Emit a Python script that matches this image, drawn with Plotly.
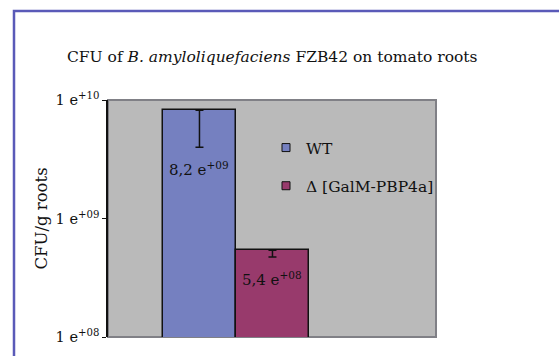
import math
import plotly.graph_objects as go

# ---- data ----
strains = ["WT", "Δ [GalM-PBP4a]"]
cfu = [8.2e9, 5.4e8]
err_minus = [4.2e9, 0.67e8]
value_labels = ["8,2 e<sup>+09</sup>", "5,4 e<sup>+08</sup>"]
bar_colors = ["#7580c0", "#983a6c"]
tick_vals = [1e8, 1e9, 1e10]
tick_text = ["1 e<sup>+08</sup>", "1 e<sup>+09</sup>", "1 e<sup>+10</sup>"]

FONT = "DejaVu Serif"

fig = go.Figure()
for i, (s, v, e, c) in enumerate(zip(strains, cfu, err_minus, bar_colors)):
    fig.add_trace(go.Bar(
        x=[s], y=[v], name=s, showlegend=False,
        marker=dict(color=c, line=dict(color="#111111", width=1.5)),
        error_y=dict(type="data", symmetric=False, array=[0], arrayminus=[e],
                     color="#111111", thickness=1.5, width=4),
    ))
    # legend entry with small square marker
    fig.add_trace(go.Scatter(
        x=[None], y=[None], mode="markers", name=s, legendgroup=s,
        marker=dict(symbol="square", size=8, color=c,
                    line=dict(color="#111111", width=1)),
    ))
    fig.add_annotation(
        x=s, y=math.log10(v - e), yref="y", xref="x",
        text=value_labels[i], showarrow=False, yanchor="top", yshift=-10,
        font=dict(family=FONT, size=15, color="#111111"),
    )

L, R, T, B = 108, 559 - 436, 100, 356 - 337
W = 559 - L - R
H = 356 - T - B

fig.update_layout(
    width=559, height=356,
    margin=dict(l=L, r=R, t=T, b=B, pad=0),
    paper_bgcolor="white", plot_bgcolor="#bababa",
    barmode="group", bargap=0, bargroupgap=0,
    font=dict(family=FONT, size=15, color="#111111"),
    title=dict(
        text="CFU of <i>B. amyloliquefaciens</i> FZB42 on tomato roots",
        x=0.487, xanchor="center", y=1 - 57 / 356, yanchor="middle",
        font=dict(family=FONT, size=15.5, color="#111111"),
    ),
    legend=dict(x=(266 - L) / W, y=(337 - 131) / H, xanchor="left", yanchor="top",
                bgcolor="rgba(0,0,0,0)", tracegroupgap=15,
                font=dict(family=FONT, size=15.5, color="#111111")),
    showlegend=True,
    xaxis=dict(range=[-1.253, 3.240], showticklabels=False, showgrid=False,
               zeroline=False, showline=False, ticks=""),
    yaxis=dict(type="log", range=[8, 10], tickvals=tick_vals, ticktext=tick_text,
               showgrid=False, zeroline=False, showline=True, linecolor="#111111",
               linewidth=1.5, ticks="outside", ticklen=4, tickcolor="#111111",
               tickfont=dict(family=FONT, size=14.5, color="#111111"),
               title=dict(text="CFU/g roots", standoff=4,
                          font=dict(family=FONT, size=16.5, color="#111111"))),
    shapes=[
        dict(type="rect", xref="paper", yref="paper", x0=0, x1=1, y0=0, y1=1,
             line=dict(color="#808086", width=2), layer="below"),
        dict(type="rect", xref="paper", yref="paper",
             x0=(14 - L) / W, x1=(600 - L) / W, y0=(337 - 400) / H, y1=(337 - 11) / H,
             line=dict(color="#5a5ab8", width=2.5), layer="above"),
    ],
)

fig.write_html("out.html", config={"displayModeBar": False},
               post_script="document.body.style.margin='0';document.body.style.overflow='hidden';")
